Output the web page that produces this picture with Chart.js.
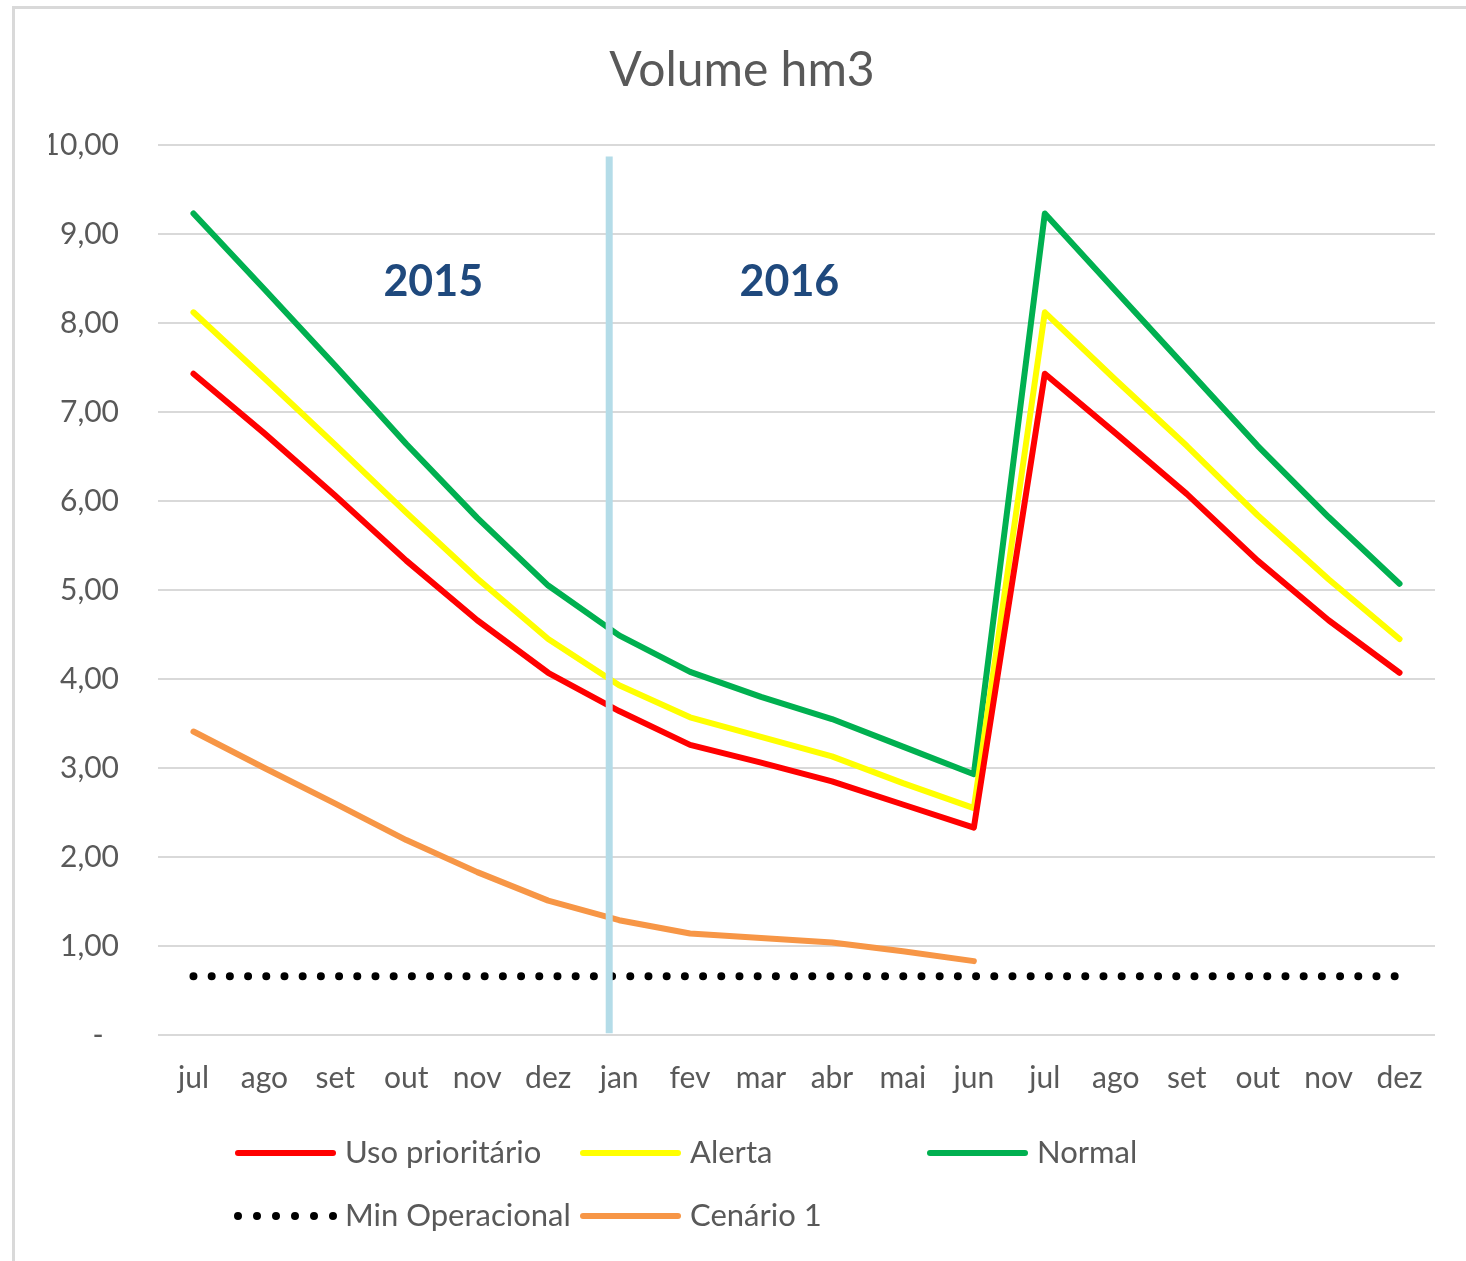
<!DOCTYPE html>
<html>
<head>
<meta charset="utf-8">
<script src="https://cdn.jsdelivr.net/npm/chart.js@4/dist/chart.umd.min.js"></script>
<style>
html,body{margin:0;padding:0;background:#fff;}
#wrap{width:1466px;height:1261px;position:relative;overflow:hidden;}
canvas{display:block;}
</style>
</head>
<body>
<div id="wrap"><canvas id="c" width="1466" height="1261"></canvas></div>
<script>
// ---- data ----
const months = ['jul','ago','set','out','nov','dez','jan','fev','mar','abr','mai','jun','jul','ago','set','out','nov','dez'];
const usoPrioritario = [7.43, 6.76, 6.06, 5.33, 4.66, 4.07, 3.64, 3.26, 3.06, 2.85, 2.59, 2.33, 7.43, 6.76, 6.08, 5.33, 4.66, 4.07];
const alerta         = [8.12, 7.38, 6.63, 5.87, 5.13, 4.45, 3.93, 3.57, 3.35, 3.13, 2.83, 2.55, 8.12, 7.36, 6.62, 5.84, 5.12, 4.45];
const normal         = [9.23, 8.38, 7.52, 6.64, 5.81, 5.05, 4.49, 4.08, 3.80, 3.55, 3.24, 2.93, 9.23, 8.36, 7.49, 6.62, 5.82, 5.07];
const minOperacional = [0.66, 0.66, 0.66, 0.66, 0.66, 0.66, 0.66, 0.66, 0.66, 0.66, 0.66, 0.66, 0.66, 0.66, 0.66, 0.66, 0.66, 0.66];
const cenario1       = [3.41, 3.00, 2.60, 2.19, 1.83, 1.51, 1.29, 1.14, 1.09, 1.04, 0.94, 0.83, null, null, null, null, null, null];
const yTickLabels = ['-', '1,00', '2,00', '3,00', '4,00', '5,00', '6,00', '7,00', '8,00', '9,00', '10,00'];
const yearLabels = ['2015', '2016'];
const yearLabelPos = [3.38, 8.40];   // category units
const yearLabelValue = 8.46;          // y value
const dividerPos = 5.86;              // category units
const dividerRange = [0.02, 9.87];    // y values

Chart.defaults.font.family = 'Lato, "Open Sans", sans-serif';
const TXT = '#595959';

const bgPlugin = {
  id: 'bg',
  beforeDraw(chart) {
    const ctx = chart.ctx;
    ctx.save();
    ctx.fillStyle = '#ffffff';
    ctx.fillRect(0, 0, chart.width, chart.height);
    ctx.strokeStyle = '#d9d9d9';
    ctx.lineWidth = 3;
    ctx.strokeRect(13.5, 7.5, 1600, 1400);
    ctx.restore();
  }
};

const overlayPlugin = {
  id: 'overlay',
  afterDatasetsDraw(chart) {
    const ctx = chart.ctx;
    const xs = chart.scales.x, ys = chart.scales.y;
    ctx.save();
    // divider
    const dx = xs.getPixelForValue(dividerPos);
    ctx.strokeStyle = '#b4dce8';
    ctx.lineWidth = 7;
    ctx.beginPath();
    ctx.moveTo(dx, ys.getPixelForValue(dividerRange[1]));
    ctx.lineTo(dx, ys.getPixelForValue(dividerRange[0]));
    ctx.stroke();
    // year labels
    ctx.fillStyle = '#1F497D';
    ctx.font = 'bold 43px Lato, "Open Sans", sans-serif';
    ctx.textAlign = 'center';
    ctx.textBaseline = 'middle';
    yearLabels.forEach((t, i) => {
      ctx.fillText(t, xs.getPixelForValue(yearLabelPos[i]), ys.getPixelForValue(yearLabelValue));
    });
    ctx.restore();
  },
  afterDraw(chart) {
    // custom legend in an Excel-like grid
    const ctx = chart.ctx;
    const cols = [238, 583, 930];
    const rows = [1153, 1216];
    ctx.save();
    ctx.font = '31px Lato, "Open Sans", sans-serif';
    ctx.textBaseline = 'middle';
    ctx.textAlign = 'left';
    chart.data.datasets.forEach((ds, i) => {
      const x = cols[i % 3], y = rows[Math.floor(i / 3)];
      ctx.strokeStyle = ds.borderColor;
      ctx.lineWidth = ds.borderWidth;
      ctx.lineCap = 'round';
      ctx.setLineDash(ds.borderDash ? [0, 19] : []);
      ctx.beginPath();
      ctx.moveTo(x, y);
      ctx.lineTo(x + (ds.borderDash ? 96 : 95), y);
      ctx.stroke();
      ctx.setLineDash([]);
      ctx.fillStyle = TXT;
      ctx.fillText(ds.label, x + 107, y);
    });
    ctx.restore();
  }
};

const lineBase = {
  borderWidth: 6,
  pointRadius: 0,
  pointHoverRadius: 0,
  tension: 0,
  borderCapStyle: 'round',
  borderJoinStyle: 'round',
  fill: false,
  spanGaps: false
};

new Chart(document.getElementById('c'), {
  type: 'line',
  data: {
    labels: months,
    datasets: [
      Object.assign({}, lineBase, { label: 'Uso prioritário', data: usoPrioritario, borderColor: '#FF0000' }),
      Object.assign({}, lineBase, { label: 'Alerta', data: alerta, borderColor: '#FFFF00' }),
      Object.assign({}, lineBase, { label: 'Normal', data: normal, borderColor: '#00B050' }),
      Object.assign({}, lineBase, { label: 'Min Operacional', data: minOperacional, borderColor: '#000000', borderWidth: 8, borderDash: [0, 18.2] }),
      Object.assign({}, lineBase, { label: 'Cenário 1', data: cenario1, borderColor: '#F79646' })
    ]
  },
  options: {
    responsive: false,
    devicePixelRatio: 1,
    animation: false,
    events: [],
    layout: { padding: { top: 0, right: 31, bottom: 0, left: 49 } },
    plugins: {
      legend: { display: false },
      tooltip: { enabled: false },
      title: {
        display: true,
        text: 'Volume hm3',
        color: TXT,
        font: { size: 48, weight: 'normal' },
        padding: { top: 42, bottom: 45.4 }
      }
    },
    scales: {
      x: {
        type: 'category',
        offset: true,
        grid: { display: false, drawTicks: false },
        border: { display: false },
        ticks: { color: TXT, font: { size: 30 }, padding: 25, maxRotation: 0, autoSkip: false },
        afterFit(s) { s.height = 226; }
      },
      y: {
        min: 0,
        max: 10,
        grid: { color: '#d9d9d9', lineWidth: 2, drawTicks: false },
        border: { display: false },
        ticks: {
          stepSize: 1,
          color: TXT,
          font: { size: 30 },
          padding: 39,
          callback: (v, i) => (v === 0 ? yTickLabels[0] + '  ' : yTickLabels[i])
        },
        afterFit(s) { s.width = 109; }
      }
    }
  },
  plugins: [bgPlugin, overlayPlugin]
});
</script>
</body>
</html>
